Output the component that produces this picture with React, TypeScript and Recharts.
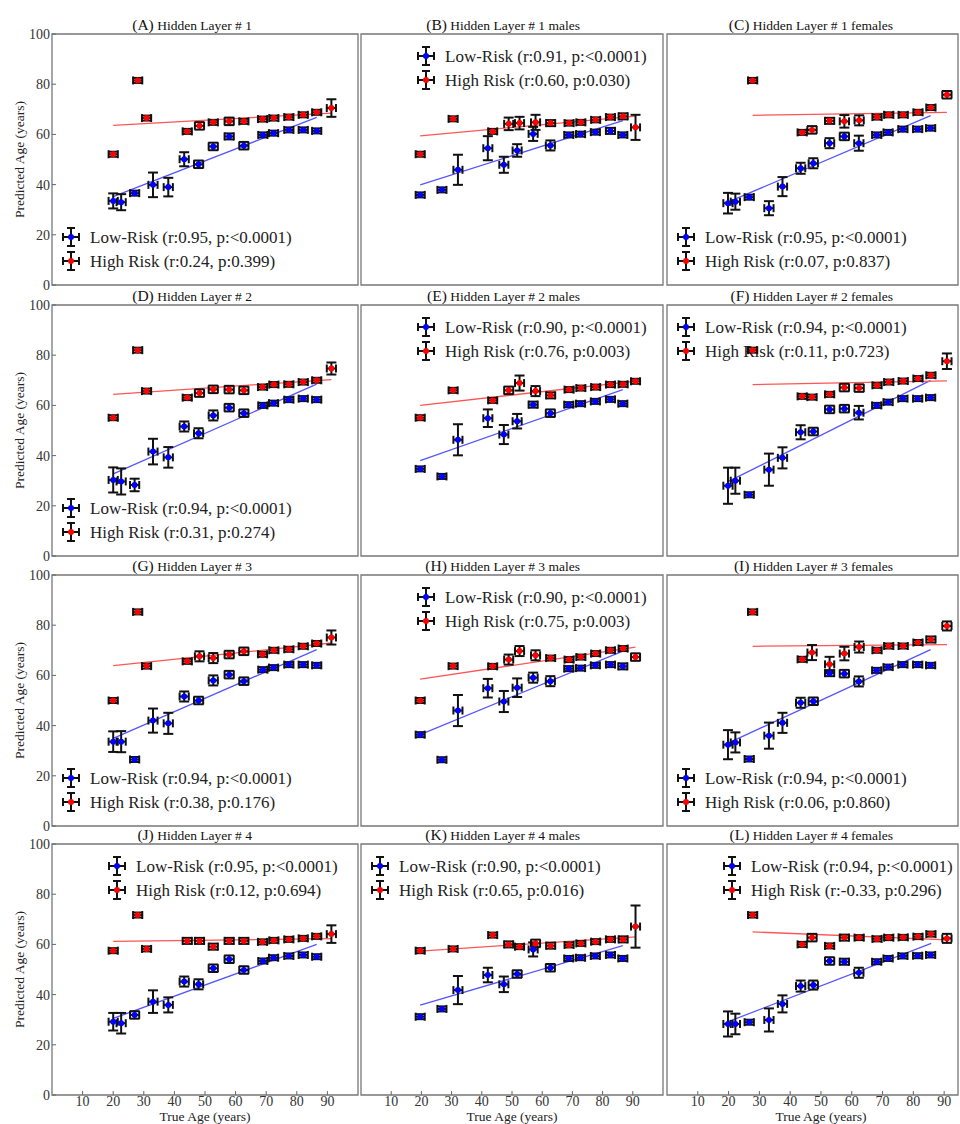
import { ScatterChart, Scatter, XAxis, YAxis, ErrorBar, ReferenceLine, ReferenceArea } from 'recharts';

// true-age bin centres
const LOW_AGE = [20, 22.6, 27, 33, 38, 43.2, 47.9, 52.7, 57.9, 62.7, 68.9, 72.4, 77.4, 82.1, 86.5];
const LOW_AGE_M = [19.6, 26.8, 32.1, 42, 47.3, 51.7, 57, 62.7, 68.8, 72.7, 77.6, 82.6, 86.7];
const LOW_AGE_F = [19.8, 22.2, 26.7, 33.1, 37.5, 43.4, 47.5, 52.8, 57.6, 62.3, 68.1, 71.8, 76.6, 81.4, 85.6];
const HIGH_AGE = [20, 28, 30.9, 44.2, 48.2, 52.7, 57.9, 62.7, 68.8, 72.5, 77.4, 82.1, 86.5, 91.3];
const HIGH_AGE_M = [19.6, 30.5, 43.6, 48.9, 52.5, 57.8, 62.8, 68.9, 72.8, 77.7, 82.6, 86.8, 90.9];
const HIGH_AGE_F = [27.8, 43.9, 47.1, 52.8, 57.6, 62.4, 68.2, 72, 76.7, 81.5, 85.7, 90.9];
const X_ERR = 1.5;

// (A) layer 1
const A_LOW = [33.5, 33.0, 36.6, 39.9, 39.0, 50.1, 48.1, 55.2, 59.2, 55.5, 59.8, 60.5, 61.8, 61.8, 61.4];
const A_LOW_ERR = [3.0, 3.2, 1.0, 4.9, 3.7, 2.8, 1.5, 1.5, 1.2, 1.5, 1.0, 1.0, 1.0, 1.0, 1.0];
const A_HIGH = [52.1, 81.5, 66.5, 61.2, 63.4, 64.8, 65.2, 65.2, 66.1, 66.5, 66.9, 67.8, 68.8, 70.5];
const A_HIGH_ERR = [1.0, 1.0, 1.0, 1.0, 1.5, 1.0, 1.5, 1.0, 1.0, 1.0, 1.0, 1.0, 1.0, 3.5];
const A_FIT = [20, 35.2, 86.5, 66.8, 20, 63.6, 91.3, 68.5];
// (B) layer 1 males
const B_LOW = [35.9, 37.9, 45.9, 54.5, 47.9, 53.6, 60.2, 55.6, 59.8, 60.1, 60.9, 61.4, 59.8];
const B_LOW_ERR = [1.0, 1.0, 6.0, 4.8, 3.2, 2.5, 2.8, 2.0, 1.0, 1.0, 1.0, 1.2, 1.0];
const B_HIGH = [52.1, 66.2, 61.2, 64.2, 64.5, 64.8, 64.5, 64.5, 64.8, 65.8, 66.9, 67.2, 62.8];
const B_HIGH_ERR = [1.0, 1.0, 1.0, 2.5, 2.5, 3.0, 1.2, 1.0, 1.0, 1.0, 1.0, 1.2, 5.0];
const B_FIT = [19.6, 39.9, 86.7, 65.5, 19.6, 59.4, 90.9, 67.3];
// (C) layer 1 females
const C_LOW = [32.6, 33.2, 35.0, 30.6, 39.2, 46.5, 48.5, 56.5, 59.2, 56.5, 59.8, 60.8, 62.1, 62.1, 62.5];
const C_LOW_ERR = [4.1, 3.2, 1.0, 2.8, 3.8, 2.2, 2.0, 2.0, 1.5, 3.0, 1.0, 1.0, 1.0, 1.0, 1.0];
const C_HIGH = [81.5, 60.8, 61.8, 65.4, 65.2, 65.6, 66.9, 67.8, 67.8, 68.8, 70.7, 75.8];
const C_HIGH_ERR = [1.0, 1.0, 1.5, 1.2, 2.5, 2.0, 1.0, 1.0, 1.0, 1.0, 1.0, 1.5];
const C_FIT = [19.8, 33.0, 85.6, 67.5, 27.8, 67.6, 90.9, 68.8];
// (D) layer 2
const D_LOW = [30.3, 29.7, 28.3, 41.6, 39.3, 51.6, 48.9, 56.0, 59.1, 56.9, 60.0, 60.9, 62.3, 62.7, 62.3];
const D_LOW_ERR = [5.0, 5.2, 2.5, 5.1, 4.1, 2.0, 2.0, 2.0, 1.5, 1.5, 1.0, 1.0, 1.0, 1.0, 1.0];
const D_HIGH = [55.1, 82.0, 65.7, 63.1, 64.9, 66.4, 66.3, 66.0, 67.3, 68.3, 68.4, 69.3, 70.0, 74.7];
const D_HIGH_ERR = [1.0, 1.0, 1.0, 1.0, 1.5, 1.5, 1.5, 1.5, 1.0, 1.0, 1.0, 1.0, 1.0, 2.4];
const D_FIT = [20, 32.7, 86.5, 68.5, 20, 64.4, 91.3, 70.3];
// (E) layer 2 males
const E_LOW = [34.7, 31.7, 46.3, 54.9, 48.4, 53.7, 60.3, 56.9, 60.3, 60.7, 61.6, 62.4, 60.7];
const E_LOW_ERR = [1.0, 1.0, 6.2, 3.5, 3.8, 2.9, 1.2, 1.5, 1.0, 1.0, 1.0, 1.0, 1.0];
const E_HIGH = [55.1, 66.0, 62.0, 66.0, 68.9, 65.7, 64.0, 66.3, 66.9, 67.3, 68.3, 68.4, 69.6];
const E_HIGH_ERR = [1.0, 1.0, 1.0, 1.5, 3.0, 2.0, 1.2, 1.0, 1.0, 1.0, 1.0, 1.0, 1.0];
const E_FIT = [19.6, 38.0, 86.7, 66.3, 19.6, 60.0, 90.9, 69.7];
// (F) layer 2 females
const F_LOW = [28.0, 30.0, 24.4, 34.4, 39.1, 49.3, 49.6, 58.4, 58.7, 57.1, 60.0, 61.3, 62.7, 62.7, 63.1];
const F_LOW_ERR = [7.2, 5.2, 1.0, 6.4, 4.2, 2.8, 1.5, 1.5, 1.5, 2.7, 1.0, 1.0, 1.0, 1.0, 1.0];
const F_HIGH = [82.0, 63.6, 63.3, 64.4, 67.1, 66.9, 68.0, 69.3, 69.7, 70.7, 72.0, 77.6];
const F_HIGH_ERR = [1.0, 1.0, 1.0, 1.0, 1.5, 1.5, 1.0, 1.0, 1.0, 1.0, 1.0, 3.1];
const F_FIT = [19.8, 29.6, 85.6, 70.0, 27.8, 68.3, 90.9, 69.8];
// (G) layer 3
const G_LOW = [33.6, 33.6, 26.5, 42.0, 40.9, 51.6, 50.0, 58.0, 60.3, 57.7, 62.3, 63.1, 64.3, 64.3, 64.0];
const G_LOW_ERR = [4.1, 4.2, 1.0, 4.8, 4.2, 2.0, 1.5, 2.0, 1.5, 1.5, 1.0, 1.0, 1.0, 1.0, 1.0];
const G_HIGH = [50.0, 85.3, 63.7, 65.6, 67.6, 66.9, 68.3, 69.6, 68.4, 70.0, 70.4, 71.6, 72.7, 75.1];
const G_HIGH_ERR = [1.0, 1.0, 1.0, 1.0, 2.0, 2.0, 1.5, 1.5, 1.0, 1.0, 1.0, 1.0, 1.0, 2.8];
const G_FIT = [20, 34.9, 86.5, 70.3, 20, 63.9, 91.3, 72.9];
// (H) layer 3 males
const H_LOW = [36.4, 26.4, 46.0, 54.9, 49.6, 55.1, 59.1, 57.7, 62.7, 62.9, 64.0, 64.3, 63.6];
const H_LOW_ERR = [1.0, 1.0, 6.2, 3.7, 4.2, 3.7, 2.0, 2.0, 1.0, 1.0, 1.0, 1.0, 1.2];
const H_HIGH = [50.0, 63.7, 63.6, 66.3, 69.7, 68.0, 66.9, 66.3, 67.3, 68.7, 70.0, 70.7, 67.3];
const H_HIGH_ERR = [1.0, 1.0, 1.0, 2.0, 2.0, 2.0, 1.0, 1.0, 1.0, 1.0, 1.0, 1.0, 1.5];
const H_FIT = [19.6, 36.4, 86.7, 69.7, 19.6, 58.5, 90.9, 71.3];
// (I) layer 3 females
const I_LOW = [32.4, 33.3, 26.7, 36.0, 41.1, 49.1, 49.7, 60.9, 60.7, 57.6, 62.0, 63.3, 64.3, 64.3, 64.0];
const I_LOW_ERR = [5.8, 4.0, 1.0, 5.2, 4.0, 2.0, 1.5, 1.2, 1.5, 2.0, 1.0, 1.0, 1.0, 1.0, 1.0];
const I_HIGH = [85.3, 66.4, 69.1, 64.4, 68.7, 71.3, 70.0, 71.7, 71.7, 73.1, 74.3, 79.7];
const I_HIGH_ERR = [1.0, 1.0, 3.0, 3.0, 2.7, 2.2, 1.0, 1.0, 1.0, 1.0, 1.2, 1.8];
const I_FIT = [19.8, 33.0, 85.6, 70.3, 27.8, 71.6, 90.9, 72.3];
// (J) layer 4
const J_LOW = [29.2, 28.6, 31.9, 37.2, 35.9, 45.2, 44.1, 50.5, 54.1, 49.8, 53.4, 54.7, 55.4, 55.8, 55.1];
const J_LOW_ERR = [3.5, 4.1, 1.5, 4.5, 3.0, 2.0, 2.0, 1.5, 1.5, 1.5, 1.0, 1.0, 1.0, 1.0, 1.0];
const J_HIGH = [57.5, 71.7, 58.2, 61.4, 61.4, 59.1, 61.4, 61.4, 61.0, 61.6, 62.0, 62.4, 63.2, 64.1];
const J_HIGH_ERR = [1.0, 1.0, 1.0, 1.2, 1.2, 1.2, 1.2, 1.2, 1.0, 1.0, 1.0, 1.0, 1.0, 3.5];
const J_FIT = [20, 30.5, 86.5, 60.0, 20, 61.2, 91.3, 62.3];
// (K) layer 4 males
const K_LOW = [31.2, 34.3, 41.8, 47.8, 44.1, 48.2, 58.0, 50.7, 54.4, 54.7, 55.4, 55.8, 54.4];
const K_LOW_ERR = [1.0, 1.0, 5.6, 2.9, 3.1, 1.5, 2.8, 1.5, 1.0, 1.0, 1.0, 1.0, 1.0];
const K_HIGH = [57.5, 58.2, 63.7, 60.0, 59.1, 60.4, 59.5, 59.8, 60.4, 61.1, 62.0, 62.0, 67.1];
const K_HIGH_ERR = [1.0, 1.0, 1.0, 1.2, 1.0, 1.5, 1.2, 1.0, 1.0, 1.0, 1.0, 1.2, 8.4];
const K_FIT = [19.6, 35.8, 86.7, 59.5, 19.6, 57.3, 90.9, 63.0];
// (L) layer 4 females
const L_LOW = [28.3, 28.3, 29.0, 29.9, 36.3, 43.4, 43.8, 53.4, 53.1, 48.7, 53.1, 54.4, 55.4, 55.5, 55.8];
const L_LOW_ERR = [5.0, 4.1, 1.0, 4.6, 3.4, 2.2, 1.8, 1.5, 1.2, 2.0, 1.0, 1.0, 1.0, 1.0, 1.0];
const L_HIGH = [71.7, 60.0, 62.7, 59.4, 62.7, 62.7, 62.2, 62.7, 62.8, 63.1, 64.1, 62.4];
const L_HIGH_ERR = [1.0, 1.0, 1.5, 1.0, 1.2, 1.0, 1.0, 1.0, 1.0, 1.0, 1.0, 1.8];
const L_FIT = [19.8, 29.2, 85.8, 60.4, 27.8, 65.0, 90.9, 61.8];

const LOW_STATS = ['0.95', '0.91', '0.95', '0.94', '0.90', '0.94', '0.94', '0.90', '0.94', '0.95', '0.90', '0.94'];
const HIGH_STATS = [
  'r:0.24, p:0.399', 'r:0.60, p:0.030', 'r:0.07, p:0.837',
  'r:0.31, p:0.274', 'r:0.76, p:0.003', 'r:0.11, p:0.723',
  'r:0.38, p:0.176', 'r:0.75, p:0.003', 'r:0.06, p:0.860',
  'r:0.12, p:0.694', 'r:0.65, p:0.016', 'r:-0.33, p:0.296',
];
const LAYER_SUFFIX = ['', ' males', ' females'];
const X_TICKS = [10, 20, 30, 40, 50, 60, 70, 80, 90];
const Y_TICKS = [0, 20, 40, 60, 80, 100];

const SERIF = '"Liberation Serif", "Times New Roman", serif';
const COL_LEFT = [52, 361, 667];
const COL_W = [306, 302, 291];
const COL_XMAX = [100, 100, 94.5];
const ROW_TOP = [34, 305, 575, 844];
const PLOT_H = 251;
const TITLE_END = [252, 580, 893];
// legend anchor (icon centre, first row) relative to the plot corner
const LEGEND_POS: Record<string, [number, number]> = { bl: [19, 203], tm: [65, 22], tl: [19, 22] };

const panels = [
  { low: [LOW_AGE, A_LOW, A_LOW_ERR], high: [HIGH_AGE, A_HIGH, A_HIGH_ERR], fit: A_FIT, legend: 'bl' },
  { low: [LOW_AGE_M, B_LOW, B_LOW_ERR], high: [HIGH_AGE_M, B_HIGH, B_HIGH_ERR], fit: B_FIT, legend: 'tm' },
  { low: [LOW_AGE_F, C_LOW, C_LOW_ERR], high: [HIGH_AGE_F, C_HIGH, C_HIGH_ERR], fit: C_FIT, legend: 'bl' },
  { low: [LOW_AGE, D_LOW, D_LOW_ERR], high: [HIGH_AGE, D_HIGH, D_HIGH_ERR], fit: D_FIT, legend: 'bl' },
  { low: [LOW_AGE_M, E_LOW, E_LOW_ERR], high: [HIGH_AGE_M, E_HIGH, E_HIGH_ERR], fit: E_FIT, legend: 'tm' },
  { low: [LOW_AGE_F, F_LOW, F_LOW_ERR], high: [HIGH_AGE_F, F_HIGH, F_HIGH_ERR], fit: F_FIT, legend: 'tl' },
  { low: [LOW_AGE, G_LOW, G_LOW_ERR], high: [HIGH_AGE, G_HIGH, G_HIGH_ERR], fit: G_FIT, legend: 'bl' },
  { low: [LOW_AGE_M, H_LOW, H_LOW_ERR], high: [HIGH_AGE_M, H_HIGH, H_HIGH_ERR], fit: H_FIT, legend: 'tm' },
  { low: [LOW_AGE_F, I_LOW, I_LOW_ERR], high: [HIGH_AGE_F, I_HIGH, I_HIGH_ERR], fit: I_FIT, legend: 'bl' },
  { low: [LOW_AGE, J_LOW, J_LOW_ERR], high: [HIGH_AGE, J_HIGH, J_HIGH_ERR], fit: J_FIT, legend: 'tm' },
  { low: [LOW_AGE_M, K_LOW, K_LOW_ERR], high: [HIGH_AGE_M, K_HIGH, K_HIGH_ERR], fit: K_FIT, legend: 'tl' },
  { low: [LOW_AGE_F, L_LOW, L_LOW_ERR], high: [HIGH_AGE_F, L_HIGH, L_HIGH_ERR], fit: L_FIT, legend: 'tm' },
];

function toPoints([ages, vals, errs]: number[][]) {
  return ages.map((x, i) => ({ x, y: vals[i], xe: X_ERR, ye: errs[i] }));
}

const dot = (color: string) => (p: any) => <circle cx={p.cx} cy={p.cy} r={3} fill={color} />;

function Panel({ i }: { i: number }) {
  const p = panels[i];
  const row = Math.floor(i / 3);
  const col = i % 3;
  const w = COL_W[col];
  const xMax = COL_XMAX[col];
  const YW = 45, PT = 10, PR = 4, XH = 28;
  const tickStyle = { fill: '#333', fontSize: 14, fontFamily: SERIF };
  const f = p.fit;
  return (
    <div style={{ position: 'absolute', left: COL_LEFT[col] - YW, top: ROW_TOP[row] - PT }}>
      <ScatterChart width={YW + w + PR} height={PT + PLOT_H + XH} margin={{ top: PT, right: PR, bottom: 0, left: 0 }}>
        <XAxis type="number" dataKey="x" domain={[0, xMax]} ticks={X_TICKS} allowDataOverflow height={XH}
          axisLine={false} tickLine={{ stroke: '#666' }} tickSize={-4} tickMargin={5}
          tick={row === 3 ? tickStyle : false} />
        <YAxis type="number" dataKey="y" domain={[0, 100]} ticks={Y_TICKS} allowDataOverflow width={YW}
          axisLine={false} tickLine={{ stroke: '#666' }} tickSize={-4} tickMargin={6}
          tick={col === 0 ? tickStyle : false} />
        <ReferenceArea x1={0} x2={xMax} y1={0} y2={100} fill="none" stroke="#777" strokeWidth={1.3} ifOverflow="visible" />
        <ReferenceLine segment={[{ x: f[0], y: f[1] }, { x: f[2], y: f[3] }]} stroke="#5555ff" strokeWidth={1.3} />
        <ReferenceLine segment={[{ x: f[4], y: f[5] }, { x: f[6], y: f[7] }]} stroke="#ff5555" strokeWidth={1.3} />
        <Scatter data={toPoints(p.low)} fill="#0000ff" shape={dot('#0000ff')} isAnimationActive={false}>
          <ErrorBar dataKey="ye" direction="y" width={5} stroke="#111" strokeWidth={2} isAnimationActive={false} />
          <ErrorBar dataKey="xe" direction="x" width={4} stroke="#111" strokeWidth={2} isAnimationActive={false} />
        </Scatter>
        <Scatter data={toPoints(p.high)} fill="#ff0000" shape={dot('#ff0000')} isAnimationActive={false}>
          <ErrorBar dataKey="ye" direction="y" width={5} stroke="#111" strokeWidth={2} isAnimationActive={false} />
          <ErrorBar dataKey="xe" direction="x" width={4} stroke="#111" strokeWidth={2} isAnimationActive={false} />
        </Scatter>
      </ScatterChart>
    </div>
  );
}

function LegendIcon({ cx, cy, color }: { cx: number; cy: number; color: string }) {
  return (
    <g stroke="#111" strokeWidth={2}>
      <line x1={cx} y1={cy - 9} x2={cx} y2={cy + 9} />
      <line x1={cx - 4} y1={cy - 9} x2={cx + 4} y2={cy - 9} />
      <line x1={cx - 4} y1={cy + 9} x2={cx + 4} y2={cy + 9} />
      <line x1={cx - 8} y1={cy} x2={cx + 8} y2={cy} />
      <line x1={cx - 8} y1={cy - 4} x2={cx - 8} y2={cy + 4} />
      <line x1={cx + 8} y1={cy - 4} x2={cx + 8} y2={cy + 4} />
      <circle cx={cx} cy={cy} r={3} fill={color} stroke="none" />
    </g>
  );
}

function Annotations() {
  return (
    <svg width={960} height={1124} style={{ position: 'absolute', left: 0, top: 0 }} fontFamily={SERIF}>
      {panels.map((p, i) => {
        const row = Math.floor(i / 3);
        const col = i % 3;
        const top = ROW_TOP[row];
        const [dx, dy] = LEGEND_POS[p.legend];
        const cx = COL_LEFT[col] + dx;
        const cy = top + dy;
        const letter = String.fromCharCode(65 + i);
        return (
          <g key={i}>
            <text x={TITLE_END[col]} y={top - 4} textAnchor="end" fill="#111">
              <tspan fontSize={15.5}>({letter})</tspan>
              <tspan fontSize={13.5}>{` Hidden Layer # ${row + 1}${LAYER_SUFFIX[col]}`}</tspan>
            </text>
            <LegendIcon cx={cx} cy={cy} color="#0000ff" />
            <LegendIcon cx={cx} cy={cy + 24} color="#ff0000" />
            <text x={cx + 19} y={cy} dominantBaseline="central" fontSize={17} fill="#222">
              {`Low-Risk (r:${LOW_STATS[i]}, p:<0.0001)`}
            </text>
            <text x={cx + 19} y={cy + 24} dominantBaseline="central" fontSize={17} fill="#222">
              {`High Risk (${HIGH_STATS[i]})`}
            </text>
          </g>
        );
      })}
      {ROW_TOP.map((top, r) => (
        <text key={r} transform={`translate(19, ${top + PLOT_H / 2}) rotate(-90)`} textAnchor="middle"
          dominantBaseline="central" fontSize={13.5} fill="#222">
          Predicted Age (years)
        </text>
      ))}
      {COL_LEFT.map((left, c) => (
        <text key={c} x={left + (COL_W[c] * 100) / COL_XMAX[c] / 2} y={1116} textAnchor="middle"
          dominantBaseline="central" fontSize={13.5} fill="#222">
          True Age (years)
        </text>
      ))}
    </svg>
  );
}

export default function App() {
  return (
    <div style={{ position: 'absolute', left: 0, top: 0, width: 960, height: 1124, overflow: 'hidden', background: '#fff' }}>
      <Annotations />
      {panels.map((_, i) => (
        <Panel key={i} i={i} />
      ))}
    </div>
  );
}
